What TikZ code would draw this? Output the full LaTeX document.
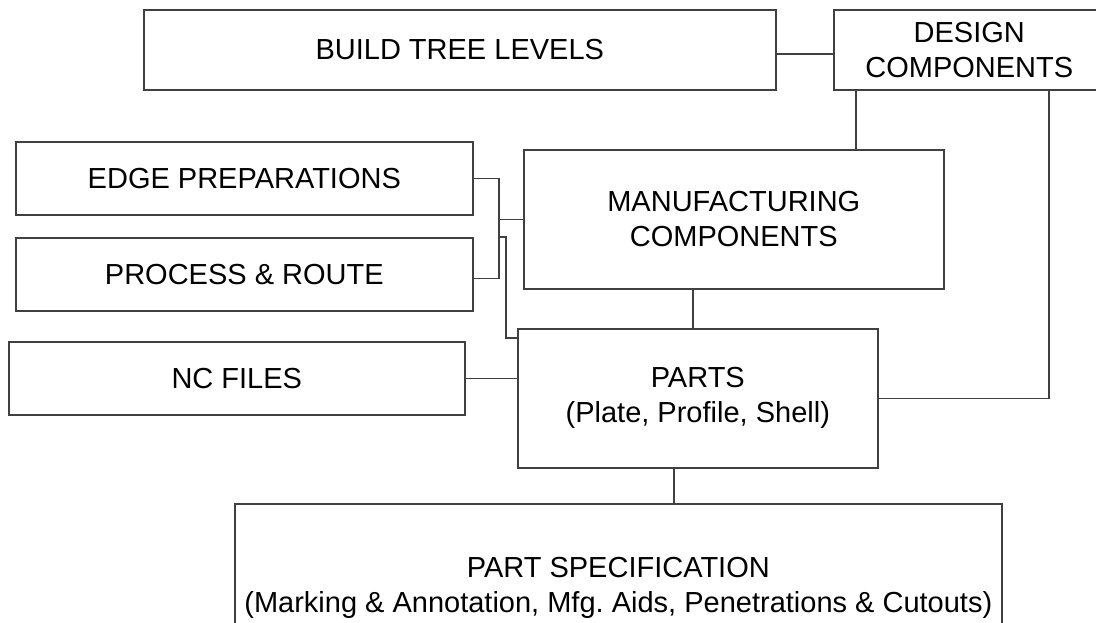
\documentclass[tikz,border=0pt]{standalone}
\usepackage{fontspec}
\setmainfont{Liberation Sans}
\begin{document}
\frenchspacing
\begin{tikzpicture}[x=1pt,y=-1pt,
  box/.style={draw=black!75, line width=1.6pt, fill=white, inner sep=0pt,
    anchor=north west, align=center, font=\fontsize{29}{35}\selectfont},
  conn/.style={draw=black!75, line width=1.6pt}]
\useasboundingbox (0,0) rectangle (1096,622);
% boxes
\node[box, minimum width=632pt, minimum height=80pt] (btl) at (143,9) {BUILD TREE LEVELS};
\node[box, minimum width=271pt, minimum height=80pt] (dc) at (833,9) {DESIGN\\COMPONENTS};
\node[box, minimum width=457pt, minimum height=73pt] (ep) at (15,141) {EDGE PREPARATIONS};
\node[box, minimum width=457pt, minimum height=73pt] (pr) at (15,237) {PROCESS \& ROUTE};
\node[box, minimum width=456pt, minimum height=73pt] (nc) at (8,341) {NC FILES};
\node[box, minimum width=420pt, minimum height=139pt] (mfg) at (523,149) {MANUFACTURING\\COMPONENTS};
\node[box, minimum width=360pt, minimum height=139pt] (parts) at (517,328) {PARTS\\(Plate, Profile, Shell)};
\node[box, minimum width=767pt, minimum height=168pt] (ps) at (234,503) {PART SPECIFICATION\\(Marking \& Annotation, Mfg. Aids, Penetrations \& Cutouts)};
% helper coordinates
\coordinate (xa) at (856,0);
\coordinate (xb) at (1049,0);
\coordinate (xc) at (499,0);
\coordinate (xd) at (506,0);
\coordinate (xe) at (693,0);
\coordinate (xf) at (674,0);
\coordinate (ya) at (0,237);
\coordinate (yb) at (0,338);
% connectors
\draw[conn] ([yshift=-4pt]btl.east) -- ([yshift=-4pt]dc.west);
\draw[conn] (dc.south -| xa) -- (mfg.north -| xa);
\draw[conn] (dc.south -| xb) |- (parts.east);
\draw[conn] (ep.east) -| (xc |- mfg.west) |- ([yshift=-4pt]pr.east);
\draw[conn] (xc |- mfg.west) -- (mfg.west);
\draw[conn] (xc |- ya) -| (xd |- yb) -- (parts.west |- yb);
\draw[conn] (nc.east) -- (parts.west |- nc.east);
\draw[conn] (mfg.south -| xe) -- (parts.north -| xe);
\draw[conn] (parts.south -| xf) -- (ps.north -| xf);
\end{tikzpicture}
\end{document}
